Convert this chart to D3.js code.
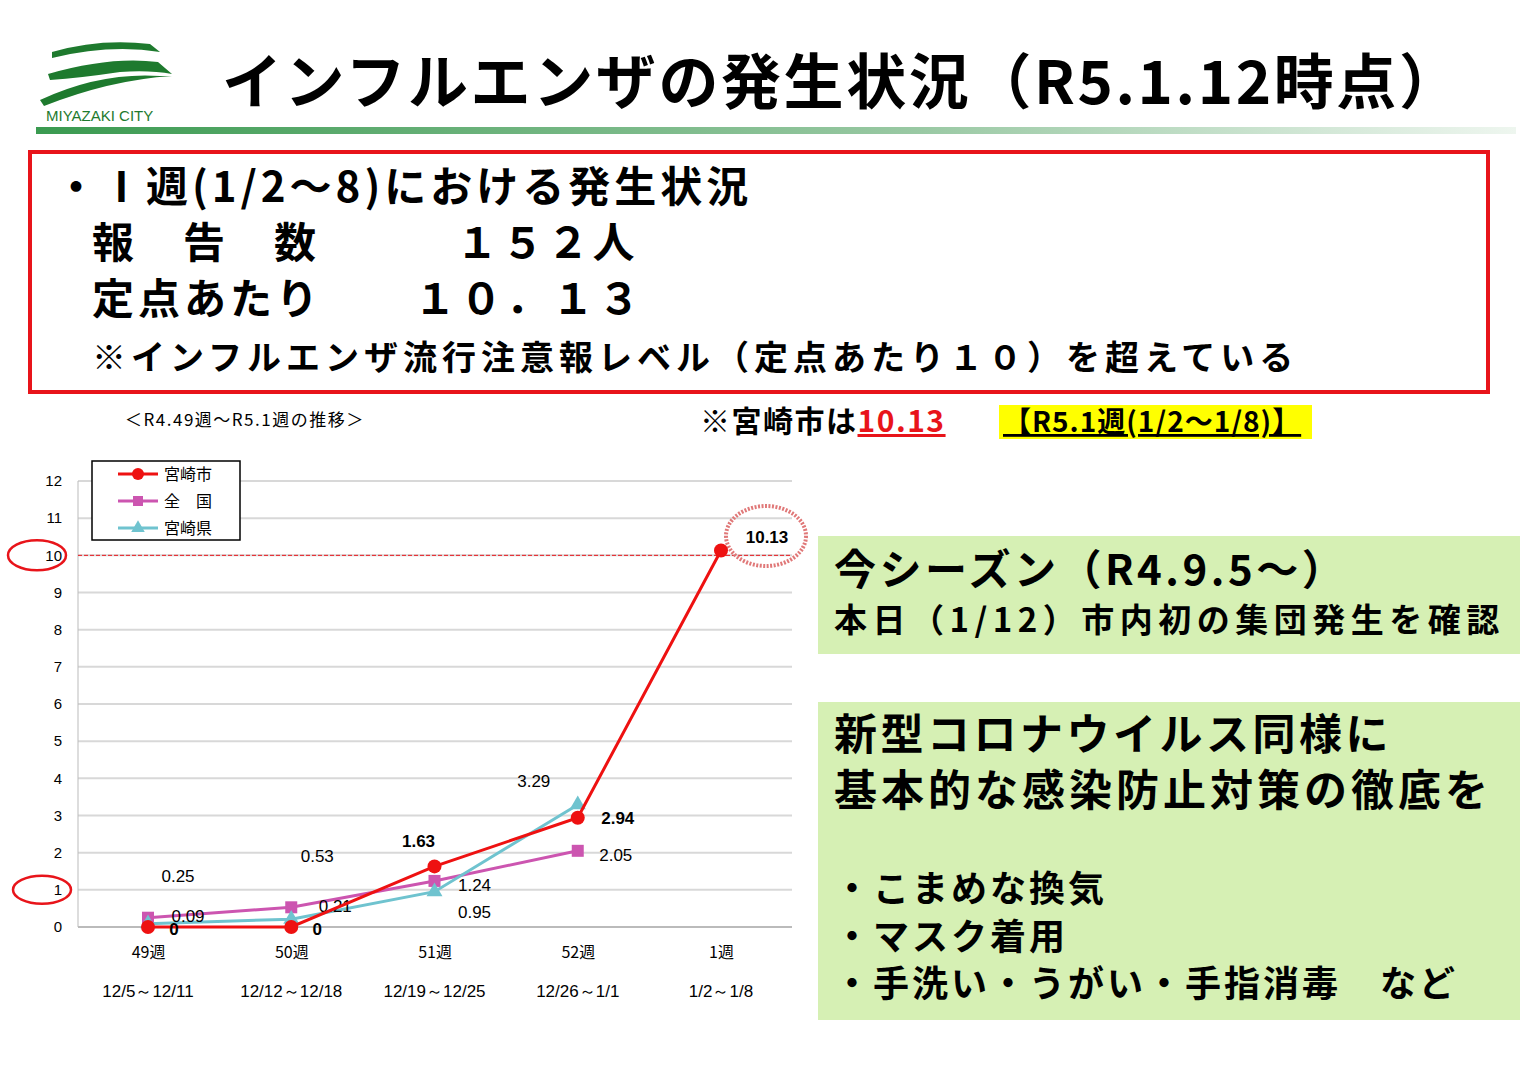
<!DOCTYPE html>
<html><head><meta charset="utf-8">
<script src="https://cdn.jsdelivr.net/npm/d3@7"></script>
<style>body{margin:0;background:#fff}svg{display:block}</style>
</head><body>
<svg id="c" width="1527" height="1080"></svg>
<script>
// data
var weeks = ["49週","50週","51週","52週","1週"]
var dates = ["12/5～12/11","12/12～12/18","12/19～12/25","12/26～1/1","1/2～1/8"]
var cityVals = [0, 0, 1.63, 2.94, 10.13]
var nationVals = [0.25, 0.53, 1.24, 2.05, null]
var prefVals = [0.09, 0.21, 0.95, 3.29, null]
var yTicks = [0,1,2,3,4,5,6,7,8,9,10,11,12]

var jp = "'Noto Sans CJK JP', sans-serif"
var svg = d3.select("#c")

// header: logo
var logo = svg.append("g")
logo.append("path").attr("d","M52,52 Q100,38 150,44 L160,52 Q110,44 52,58 Z").attr("fill","#1e7a2e")
logo.append("path").attr("d","M48,74 Q110,56 158,62 L172,74 Q150,70 120,72 Q80,78 50,80 Z").attr("fill","#1e7a2e")
logo.append("path").attr("d","M40,100 Q100,72 160,76 L172,76 Q110,80 44,106 Z").attr("fill","#1e7a2e")
logo.append("text").attr("x",46).attr("y",121).text("MIYAZAKI  CITY")
  .attr("font-family","Arial, sans-serif").attr("font-size",15).attr("fill","#1e7a2e")
var grad = svg.append("defs").append("linearGradient").attr("id","g1")
grad.append("stop").attr("offset","0").attr("stop-color","#3a9a50")
grad.append("stop").attr("offset","0.6").attr("stop-color","#9ac9a4")
grad.append("stop").attr("offset","1").attr("stop-color","#eef6ef")
svg.append("rect").attr("x",36).attr("y",127).attr("width",1480).attr("height",7).attr("fill","url(#g1)")
svg.append("text").attr("x",222).attr("y",104).text("インフルエンザの発生状況（R5.1.12時点）")
  .attr("font-family",jp).attr("font-weight",700).attr("font-size",60).attr("letter-spacing",2.6).attr("fill","#000")

// red box
svg.append("rect").attr("x",30).attr("y",152).attr("width",1458).attr("height",240)
  .attr("fill","none").attr("stroke","#e8141a").attr("stroke-width",4)
var boxLines = [
  {x:55,y:202,s:42,ls:4,t:"・ I 週(1/2～8)における発生状況"},
  {x:92,y:258,s:42,ls:3.5,t:"報　告　数　　　１５２人"},
  {x:92,y:314,s:42,ls:4,t:"定点あたり　　１０．１３"},
  {x:92,y:370,s:34,ls:5,t:"※インフルエンザ流行注意報レベル（定点あたり１０）を超えている"}]
boxLines.forEach(function(d){
  svg.append("text").attr("x",d.x).attr("y",d.y).text(d.t).attr("font-family",jp)
    .attr("font-weight",700).attr("font-size",d.s).attr("letter-spacing",d.ls)
})

svg.append("text").attr("x",125).attr("y",426).text("＜R4.49週～R5.1週の推移＞")
  .attr("font-family",jp).attr("font-size",17).attr("letter-spacing",1.5)
svg.append("text").attr("x",700).attr("y",432).attr("font-family",jp).attr("font-weight",700).attr("font-size",30)
  .attr("letter-spacing",1.5)
  .call(function(t){
    t.append("tspan").text("※宮崎市は")
    t.append("tspan").text("10.13").attr("fill","#e8141a").attr("text-decoration","underline")
  })
svg.append("rect").attr("x",999).attr("y",405).attr("width",313).attr("height",34).attr("fill","#ffff00")
svg.append("text").attr("x",1003).attr("y",432).text("【R5.1週(1/2～1/8)】").attr("font-family",jp)
  .attr("font-weight",700).attr("font-size",28).attr("letter-spacing",1).attr("text-decoration","underline")

// chart
var x = d3.scalePoint().domain(weeks).range([148,721])
var y = d3.scaleLinear().domain([0,12]).range([927,481])
var g = svg.append("g")
yTicks.forEach(function(v){
  g.append("line").attr("x1",78).attr("x2",792).attr("y1",y(v)).attr("y2",y(v))
    .attr("stroke",v===0?"#bbb":"#d8d8d8").attr("stroke-width",2)
})
g.append("line").attr("x1",78).attr("x2",78).attr("y1",y(12)).attr("y2",y(0)).attr("stroke","#bbb")
var yAxis = d3.axisLeft(y).tickValues(yTicks).tickSize(0).tickPadding(16)
svg.append("g").attr("transform","translate(78,0)").call(yAxis)
  .call(function(a){a.select(".domain").remove()})
  .selectAll("text").attr("font-family","Arial").attr("font-size",15).attr("fill","#000")
var xAxis = d3.axisBottom(x).tickSize(0).tickPadding(20)
svg.append("g").attr("transform","translate(0,"+y(0)+")").call(xAxis)
  .call(function(a){a.select(".domain").remove()})
  .selectAll("text").attr("font-family",jp).attr("font-size",16).attr("fill","#000")
dates.forEach(function(d,i){
  svg.append("text").attr("x",x(weeks[i])).attr("y",997).attr("text-anchor","middle")
    .text(d).attr("font-family","Arial").attr("font-size",17)
})
// 10 threshold
svg.append("line").attr("x1",78).attr("x2",792).attr("y1",y(10)).attr("y2",y(10))
  .attr("stroke","#e8141a").attr("stroke-dasharray","4,2")
svg.append("ellipse").attr("cx",37).attr("cy",y(10)).attr("rx",29).attr("ry",15).attr("fill","none").attr("stroke","#e8141a").attr("stroke-width",2.5)
svg.append("ellipse").attr("cx",42).attr("cy",y(1)).attr("rx",29).attr("ry",14).attr("fill","none").attr("stroke","#e8141a").attr("stroke-width",2.5)
svg.append("ellipse").attr("cx",766).attr("cy",536).attr("rx",40).attr("ry",30).attr("fill","none").attr("stroke","#e07878").attr("stroke-width",4).attr("stroke-dasharray","2,1.5")

var series = [
  {v:nationVals,c:"#cc55b0",m:"sq",off:[[30,-40],[26,-50],[40,6],[38,6]],b:false},
  {v:prefVals,c:"#6fc3cf",m:"tri",off:[[40,-6],[44,-12],[40,22],[-44,-22]],b:false},
  {v:cityVals,c:"#ee1111",m:"ci",off:[[26,4],[26,4],[-16,-24],[40,2],[46,-12]],b:true}]
var line = d3.line().defined(function(d){return d!=null}).x(function(d,i){return x(weeks[i])}).y(function(d){return y(d)})
series.forEach(function(s){
  svg.append("path").attr("d",line(s.v)).attr("fill","none").attr("stroke",s.c).attr("stroke-width",3)
  s.v.forEach(function(v,i){
    if(v==null) return
    var px=x(weeks[i]), py=y(v)
    if(s.m=="ci") svg.append("circle").attr("cx",px).attr("cy",py).attr("r",7).attr("fill",s.c)
    else if(s.m=="sq") svg.append("rect").attr("x",px-6).attr("y",py-6).attr("width",12).attr("height",12).attr("fill",s.c)
    else svg.append("path").attr("d",d3.symbol(d3.symbolTriangle,110)()).attr("transform","translate("+px+","+py+")").attr("fill",s.c)
    svg.append("text").attr("x",px+s.off[i][0]).attr("y",py+s.off[i][1]).attr("text-anchor","middle")
      .attr("dominant-baseline","middle").text(v===0?"0":d3.format(".2f")(v))
      .attr("font-family","Arial").attr("font-size",17).attr("font-weight",s.b?700:400)
  })
})

// legend
svg.append("rect").attr("x",92).attr("y",461).attr("width",148).attr("height",79).attr("fill","#fff").attr("stroke","#000").attr("stroke-width",1.5)
var leg = [{n:"宮崎市",s:series[2]},{n:"全　国",s:series[0]},{n:"宮崎県",s:series[1]}]
leg.forEach(function(d,i){
  var ly=474+i*27
  svg.append("line").attr("x1",118).attr("x2",158).attr("y1",ly).attr("y2",ly).attr("stroke",d.s.c).attr("stroke-width",3)
  if(d.s.m=="ci") svg.append("circle").attr("cx",138).attr("cy",ly).attr("r",6).attr("fill",d.s.c)
  else if(d.s.m=="sq") svg.append("rect").attr("x",133).attr("y",ly-5).attr("width",10).attr("height",10).attr("fill",d.s.c)
  else svg.append("path").attr("d",d3.symbol(d3.symbolTriangle,80)()).attr("transform","translate(138,"+ly+")").attr("fill",d.s.c)
  svg.append("text").attr("x",164).attr("y",ly+6).text(d.n).attr("font-family",jp).attr("font-size",16)
})

// green boxes
svg.append("rect").attr("x",818).attr("y",536).attr("width",702).attr("height",118).attr("fill","#d6f0b4")
svg.append("text").attr("x",834).attr("y",585).text("今シーズン（R4.9.5～）").attr("font-family",jp).attr("font-weight",700).attr("font-size",42).attr("letter-spacing",3.5)
svg.append("text").attr("x",834).attr("y",632).text("本日（1/12）市内初の集団発生を確認").attr("font-family",jp).attr("font-weight",700).attr("font-size",33).attr("letter-spacing",5.5)
svg.append("rect").attr("x",818).attr("y",702).attr("width",702).attr("height",318).attr("fill","#d6f0b4")
var gl = [{y:750,ls:3.5,t:"新型コロナウイルス同様に"},{y:806,ls:4,t:"基本的な感染防止対策の徹底を"},
  {y:902,ls:3,t:"・こまめな換気"},{y:950,ls:3,t:"・マスク着用"},{y:997,ls:3,t:"・手洗い・うがい・手指消毒　など"}]
gl.forEach(function(d,i){
  svg.append("text").attr("x",834).attr("y",d.y).text(d.t).attr("font-family",jp).attr("font-weight",700)
    .attr("font-size",i<2?43:36).attr("letter-spacing",d.ls)
})
</script>
</body></html>
